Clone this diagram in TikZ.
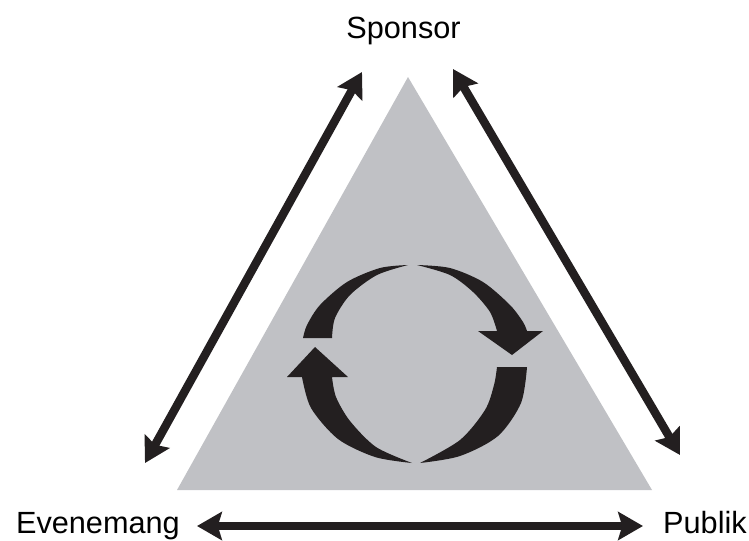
\documentclass[tikz,border=0pt]{standalone}
\usepackage{fontspec}
\setmainfont{Liberation Sans}
\usetikzlibrary{arrows.meta}
\definecolor{trigray}{RGB}{192,193,197}
\definecolor{ink}{RGB}{35,31,32}

\begin{document}
\begin{tikzpicture}
  [x=0.75pt, y=-0.75pt,
   party/.style={font=\fontsize{23}{27}\selectfont, inner sep=0pt},
   link/.style={draw=ink, line width=6.3pt, {Stealth[length=18.6pt, width=21pt, inset=3pt]}-{Stealth[length=18.6pt, width=21pt, inset=3pt]}}]
  \useasboundingbox (0,0) rectangle (749,540);
  \fill[trigray] (408,77) -- (652,490) -- (177,490) -- cycle;

  \node[party, anchor=base] (sponsor) at (403.5,38) {Sponsor};
  \node[party, anchor=base east] (evenemang) at (180,533) {Evenemang};
  \node[party, anchor=base east] (publik) at (747,533) {Publik};

  \coordinate (sp1) at (362,72);
  \coordinate (ev1) at (145,463);
  \coordinate (sp2) at (453,69);
  \coordinate (pu1) at (680,455);
  \coordinate (ev2) at (197,526);
  \coordinate (pu2) at (643,526);
  \draw[link] (sp1) -- (ev1);
  \draw[link] (sp2) -- (pu1);
  \draw[link] (ev2) -- (pu2);

  % cycle arrows
  \fill[ink] plot[smooth] coordinates {(303,338) (307,325) (320,305) (347,282) (380,268) (408,265)}
    -- plot[smooth] coordinates {(408,265) (377,275) (350,295) (335,318) (332,338)} -- cycle;
  \fill[ink] plot[smooth] coordinates {(417,265) (450,268) (483,282) (510,305) (523,322) (527,331)}
    -- (543,331) -- (512,355) -- (478,331) -- (497,331)
    -- plot[smooth] coordinates {(497,331) (490,312) (473,292) (450,275) (417,265)} -- cycle;
  \fill[ink] (315,347) -- (348,377) -- (332,377)
    -- plot[smooth] coordinates {(332,377) (336,397) (350,421) (376,447) (412,463)}
    -- plot[smooth] coordinates {(412,463) (375,457) (338,439) (311,408) (302,377)}
    -- (287,377) -- cycle;
  \fill[ink] plot[smooth] coordinates {(527,367) (521,403) (498,436) (460,456) (420,463)}
    -- plot[smooth] coordinates {(420,463) (460,440) (485,410) (494,385) (497,367)} -- cycle;
\end{tikzpicture}
\end{document}
